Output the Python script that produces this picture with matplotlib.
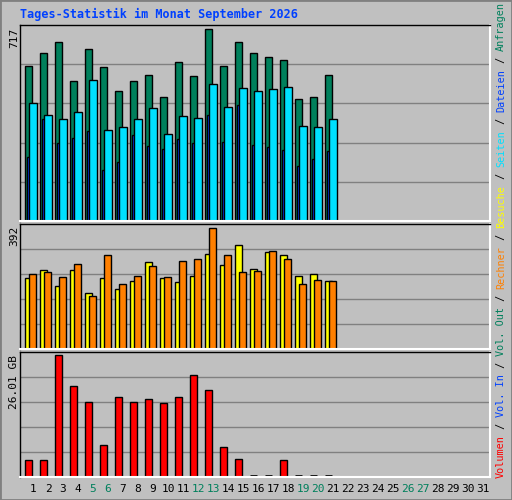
import numpy as np
import matplotlib
matplotlib.use("Agg")
import matplotlib.pyplot as plt
from matplotlib.patches import Rectangle

days = np.arange(1, 22)
anfragen = [578, 627, 668, 522, 642, 575, 485, 522, 545, 462, 593, 541, 717, 578, 668, 627, 612, 601, 458, 462, 545]
seiten = [440, 395, 380, 406, 526, 342, 350, 380, 421, 324, 391, 387, 511, 425, 496, 488, 492, 500, 354, 350, 383]
dateien = [239, 380, 290, 312, 338, 189, 222, 320, 279, 271, 308, 290, 398, 297, 432, 286, 275, 264, 207, 230, 260]
besuche = [229, 255, 203, 255, 183, 229, 193, 219, 281, 229, 216, 238, 307, 271, 336, 258, 314, 304, 238, 242, 219]
rechner = [242, 248, 232, 274, 173, 304, 212, 238, 268, 232, 284, 291, 392, 304, 248, 252, 317, 291, 209, 225, 219]
volumen = [3.56, 3.56, 26.01, 19.47, 15.98, 6.83, 17.07, 15.98, 16.64, 15.77, 17.07, 21.87, 18.6, 6.39, 3.78,
           0, 0, 3.56, 0, 0, 0]
all_days = list(range(1, 32))
weekend = [5, 6, 12, 13, 19, 20, 26, 27]

BG = "#C0C0C0"
GREEN = "#00805C"
mono = "DejaVu Sans Mono"

W, H = 512, 500
fig = plt.figure(figsize=(W / 100, H / 100), dpi=100, facecolor=BG)
fig.patches.append(Rectangle((0, 0), 1, 1, transform=fig.transFigure, fill=False,
                             edgecolor="#808080", lw=2))

def make_ax(top, bottom):
    ax = fig.add_axes([20 / W, 1 - bottom / H, 470 / W, (bottom - top) / H])
    ax.set_facecolor(BG)
    ax.set_xlim(1 - 13 / 15, 31 + 7 / 15)
    ax.set_xticks([])
    ax.set_yticks([])
    for s in ax.spines.values():
        s.set_color("black")
        s.set_linewidth(1)
    ax.spines["bottom"].set_color("white")
    ax.spines["right"].set_color("white")
    ax.spines["bottom"].set_linewidth(1.5)
    ax.spines["right"].set_linewidth(1.5)
    for f in [0.2, 0.4, 0.6, 0.8]:
        ax.axhline(f, color="#808080", lw=1, zorder=0, transform=ax.transAxes) if False else \
            ax.plot([0, 1], [f, f], color="#808080", lw=1, zorder=0, transform=ax.transAxes)
    return ax

ax1 = make_ax(25, 221)
ax2 = make_ax(224, 349)
ax3 = make_ax(352, 477)

ek = dict(edgecolor="black", linewidth=1, align="edge")
ax1.set_ylim(0, 733)
ax1.bar(days - 8 / 15, anfragen, width=0.47, color=GREEN, **ek)
ax1.bar(days - 6 / 15, dateien, width=0.2, color="#0040FF", **ek)
ax1.bar(days - 4 / 15, seiten, width=0.53, color="#00E0FF", **ek)

ax2.set_ylim(0, 405)
ax2.bar(days - 8 / 15, besuche, width=0.49, color="#FFFF00", **ek)
ax2.bar(days - 4 / 15, rechner, width=0.49, color="#FF8000", **ek)

ax3.set_ylim(0, 26.7)
vol = np.array(volumen)
nz = vol > 0
ax3.bar(days[nz] - 8 / 15, vol[nz], width=0.49, color="#FF0000", **ek)
ax3.hlines(np.zeros((~nz).sum()) + 0.25, days[~nz] - 8 / 15, days[~nz] - 8 / 15 + 0.49,
           color="black", lw=2)

# day labels
for d in all_days:
    fig.text((33 + 15 * (d - 1)) / W, 1 - 489 / H, str(d), ha="center", va="center",
             family=mono, fontsize=8, color=GREEN if d in weekend else "black")

fig.text(20 / W, 1 - 14 / H, "Tages-Statistik im Monat September 2026", ha="left", va="center",
         family=mono, fontsize=8.5, fontweight="bold", color="#0040FF")

fig.text(14 / W, 1 - 28 / H, "717", rotation=90, ha="center", va="top", family=mono, fontsize=8)
fig.text(14 / W, 1 - 226 / H, "392", rotation=90, ha="center", va="top", family=mono, fontsize=8)
fig.text(14 / W, 1 - 355 / H, "26.01 GB", rotation=90, ha="center", va="top", family=mono, fontsize=8)

legend_parts = [("Volumen", "#FF0000"), (" / ", "black"), ("Vol. In", "#0040FF"), (" / ", "black"),
                ("Vol. Out", GREEN), (" / ", "black"), ("Rechner", "#FF8000"), (" / ", "black"),
                ("Besuche", "#FFFF00"), (" / ", "black"), ("Seiten", "#00E0FF"), (" / ", "black"),
                ("Dateien", "#0040FF"), (" / ", "black"), ("Anfragen", GREEN)]
y = 478
for txt, col in legend_parts:
    fig.text(501 / W, 1 - y / H, txt, rotation=90, rotation_mode="anchor", ha="left", va="center",
             family=mono, fontsize=7.3, color=col)
    y -= 6.1 * len(txt)

fig.savefig("out.png", dpi=100, facecolor=BG)
